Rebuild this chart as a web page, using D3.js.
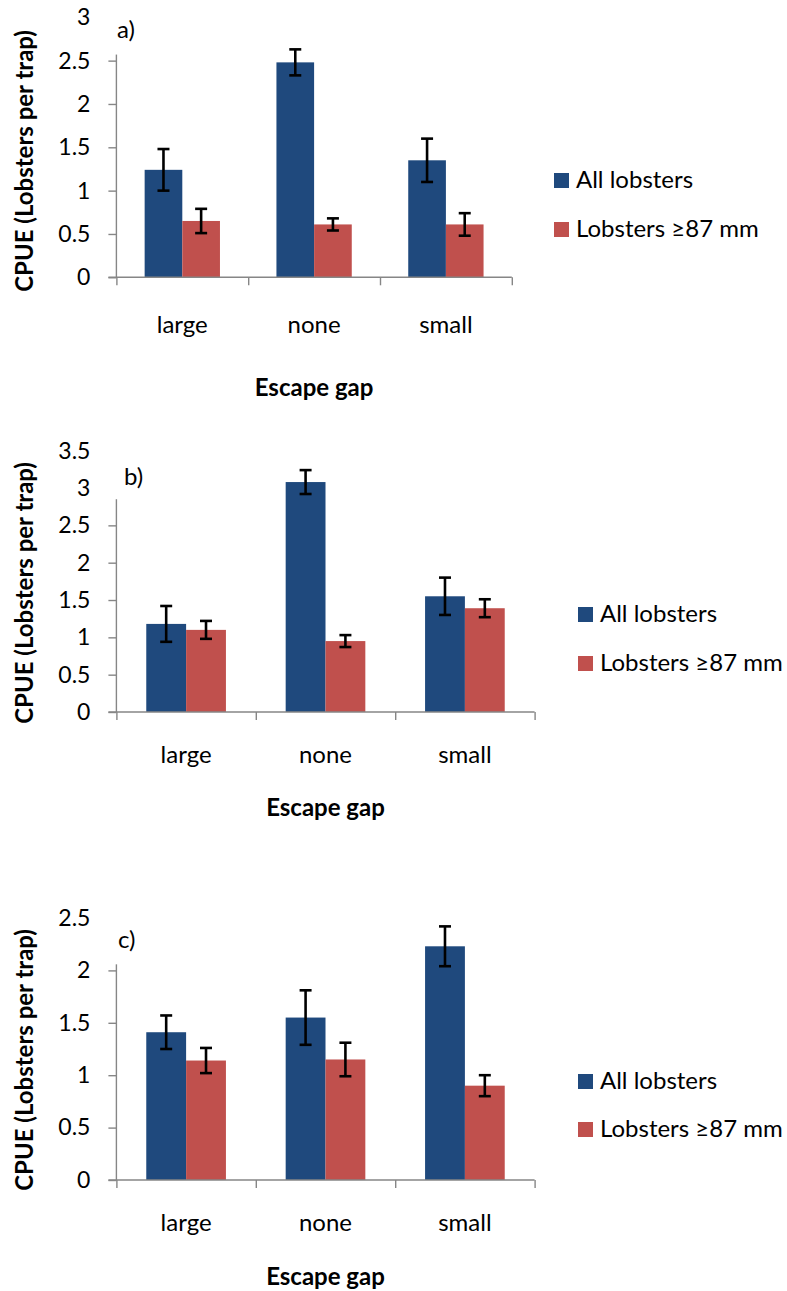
<!DOCTYPE html>
<html>
<head>
<meta charset="utf-8">
<script src="https://cdn.jsdelivr.net/npm/d3@7"></script>
<style>
  html, body { margin: 0; padding: 0; background: #ffffff; }
  svg { display: block; font-family: Lato, "Noto Sans", sans-serif; }
</style>
</head>
<body>
<svg id="chart" width="787" height="1291"></svg>
<script>
// ---- data ----
const categories = ["large", "none", "small"];
const seriesNames = ["All lobsters", "Lobsters \u226587 mm"];
const panelLabels = ["a)", "b)", "c)"];
const xTitle = "Escape gap";
const yTitle = "CPUE (Lobsters per trap)";

// panel a
const allLobstersA = [1.24, 2.48, 1.35];
const allLobstersErrA = [0.24, 0.15, 0.25];
const legalLobstersA = [0.65, 0.61, 0.61];
const legalLobstersErrA = [0.14, 0.07, 0.13];
const yTicksA = [0, 0.5, 1, 1.5, 2, 2.5, 3];

// panel b
const allLobstersB = [1.18, 3.08, 1.55];
const allLobstersErrB = [0.24, 0.16, 0.25];
const legalLobstersB = [1.10, 0.95, 1.39];
const legalLobstersErrB = [0.12, 0.08, 0.12];
const yTicksB = [0, 0.5, 1, 1.5, 2, 2.5, 3, 3.5];

// panel c
const allLobstersC = [1.41, 1.55, 2.23];
const allLobstersErrC = [0.16, 0.26, 0.19];
const legalLobstersC = [1.14, 1.15, 0.90];
const legalLobstersErrC = [0.12, 0.16, 0.10];
const yTicksC = [0, 0.5, 1, 1.5, 2, 2.5];

// ---- styling ----
const colors = ["#1F497D", "#C0504D"];
const axisColor = "#868686";
const tickFont = 23;
const textFont = 24;
const titleFont = 24;

// ---- layout of the three stacked charts ----
const panels = [
  {
    label: panelLabels[0], ticks: yTicksA,
    values: [allLobstersA, legalLobstersA], errors: [allLobstersErrA, legalLobstersErrA],
    left: 116.4, right: 511.8, bottom: 277.3, top: 17.3, axisTopValue: 2.57,
    labelX: 117, labelY: 38, catY: 333, xTitleY: 396, yTitleY: 161,
    legendX: 554, legendY: [173, 222]
  },
  {
    label: panelLabels[1], ticks: yTicksB,
    values: [allLobstersB, legalLobstersB], errors: [allLobstersErrB, legalLobstersErrB],
    left: 116.4, right: 534.6, bottom: 712, top: 450.7, axisTopValue: 2.85,
    labelX: 124, labelY: 485, catY: 763, xTitleY: 816, yTitleY: 593,
    legendX: 578, legendY: [607, 656]
  },
  {
    label: panelLabels[2], ticks: yTicksC,
    values: [allLobstersC, legalLobstersC], errors: [allLobstersErrC, legalLobstersErrC],
    left: 116.4, right: 534.6, bottom: 1180, top: 918, axisTopValue: 2.058,
    labelX: 118, labelY: 948, catY: 1231, xTitleY: 1285, yTitleY: 1060,
    legendX: 578, legendY: [1074, 1122]
  }
];

const svg = d3.select("#chart");

panels.forEach(p => {
  const g = svg.append("g");
  const yMax = p.ticks[p.ticks.length - 1];
  const y = d3.scaleLinear().domain([0, yMax]).range([p.bottom, p.top]);
  const x = d3.scaleBand().domain(categories).range([p.left, p.right]).paddingInner(0).paddingOuter(0);
  // Excel-style 150% gap width: each bar is band / 3.5
  const xs = d3.scaleBand().domain(seriesNames).range([0, x.bandwidth()]).paddingInner(0).paddingOuter(0.75);

  // bars
  seriesNames.forEach((s, si) => {
    g.append("g").selectAll("rect")
      .data(categories.map((c, i) => ({ c, v: p.values[si][i] })))
      .join("rect")
      .attr("x", d => x(d.c) + xs(s))
      .attr("width", xs.bandwidth())
      .attr("y", d => y(d.v))
      .attr("height", d => y(0) - y(d.v))
      .attr("fill", colors[si]);
  });

  // y axis: tick labels for every value, tick marks only where the axis line reaches
  const yAxis = d3.axisLeft(y).tickValues(p.ticks).tickSize(8).tickPadding(18)
    .tickFormat(d => d3.format("")(d));
  const ya = g.append("g").attr("transform", `translate(${p.left},0)`).call(yAxis);
  ya.select(".domain").remove();
  ya.selectAll(".tick line")
    .attr("stroke", axisColor).attr("stroke-width", 1.4)
    .attr("display", d => d <= p.axisTopValue ? null : "none");
  ya.selectAll(".tick text")
    .attr("fill", "#000").style("font-size", tickFont + "px")
    .style("font-family", "Lato, 'Noto Sans', sans-serif");
  g.append("line")
    .attr("x1", p.left).attr("x2", p.left)
    .attr("y1", y(0)).attr("y2", y(p.axisTopValue))
    .attr("stroke", axisColor).attr("stroke-width", 1.4);

  // x axis with tick marks on category boundaries
  const bounds = d3.scaleLinear().domain([0, categories.length]).range([p.left, p.right]);
  const xa = g.append("g").attr("transform", `translate(0,${p.bottom})`)
    .call(d3.axisBottom(bounds).tickValues(d3.range(categories.length + 1)).tickSize(8).tickFormat(""));
  xa.select(".domain").attr("stroke", axisColor).attr("stroke-width", 1.4)
    .attr("d", `M${p.left - 8},0H${p.right}`);
  xa.selectAll(".tick line").attr("stroke", axisColor).attr("stroke-width", 1.4);

  // category labels
  g.append("g").selectAll("text")
    .data(categories).join("text")
    .attr("x", d => x(d) + x.bandwidth() / 2)
    .attr("y", p.catY)
    .attr("text-anchor", "middle")
    .style("font-size", textFont + "px")
    .text(d => d);

  // error bars
  seriesNames.forEach((s, si) => {
    const eb = g.append("g").attr("stroke", "#000").attr("stroke-width", 2.6);
    categories.forEach((c, i) => {
      const cx = x(c) + xs(s) + xs.bandwidth() / 2;
      const v = p.values[si][i], e = p.errors[si][i];
      eb.append("line").attr("x1", cx).attr("x2", cx).attr("y1", y(v - e)).attr("y2", y(v + e));
      eb.append("line").attr("x1", cx - 6).attr("x2", cx + 6).attr("y1", y(v - e)).attr("y2", y(v - e));
      eb.append("line").attr("x1", cx - 6).attr("x2", cx + 6).attr("y1", y(v + e)).attr("y2", y(v + e));
    });
  });

  // panel letter
  g.append("text").attr("x", p.labelX).attr("y", p.labelY)
    .style("font-size", textFont + "px").text(p.label);

  // axis titles
  g.append("text")
    .attr("x", (p.left + p.right) / 2).attr("y", p.xTitleY)
    .attr("text-anchor", "middle")
    .style("font-size", titleFont + "px").style("font-weight", "bold")
    .text(xTitle);
  g.append("text")
    .attr("transform", `translate(33,${p.yTitleY}) rotate(-90)`)
    .attr("text-anchor", "middle")
    .style("font-size", titleFont + "px").style("font-weight", "bold")
    .text(yTitle);

  // legend
  seriesNames.forEach((s, si) => {
    g.append("rect")
      .attr("x", p.legendX).attr("y", p.legendY[si])
      .attr("width", 15).attr("height", 15)
      .attr("fill", colors[si]);
    g.append("text")
      .attr("x", p.legendX + 22).attr("y", p.legendY[si] + 15)
      .style("font-size", textFont + "px")
      .text(s);
  });
});
</script>
</body>
</html>
